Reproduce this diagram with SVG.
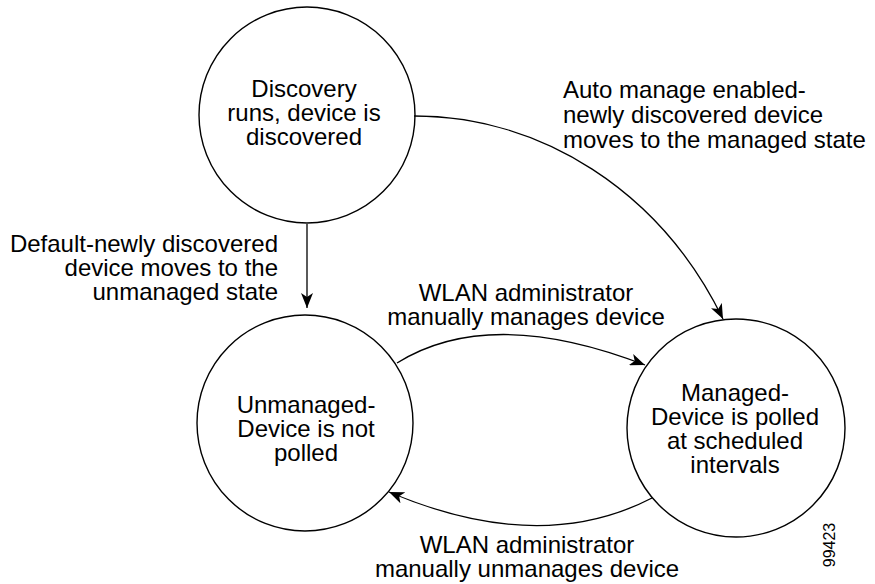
<svg xmlns="http://www.w3.org/2000/svg" width="875" height="584" viewBox="0 0 875 584">
<style>
.node{fill:#fff;stroke:#000;stroke-width:1.4}
.edge{fill:none;stroke:#000;stroke-width:1.3;marker-end:url(#ah)}
text{font-family:"Liberation Sans",Arial,sans-serif;font-size:24px;fill:#000}
.c{text-anchor:middle}
.r{text-anchor:end}
</style>
<defs>
<marker id="ah" markerUnits="userSpaceOnUse" markerWidth="16" markerHeight="12" refX="15" refY="6" orient="auto">
<path d="M0,0 L15,6 L0,12 L4,6 z" fill="#000"/>
</marker>
</defs>
<rect width="875" height="584" fill="#fff"/>
<g id="discovery">
<circle class="node" cx="307" cy="115" r="108"/>
<text class="c" x="304" y="97">Discovery</text>
<text class="c" x="304" y="121">runs, device is</text>
<text class="c" x="304" y="145">discovered</text>
</g>
<g id="unmanaged">
<circle class="node" cx="305" cy="423" r="108"/>
<text class="c" x="306" y="413">Unmanaged-</text>
<text class="c" x="306" y="437">Device is not</text>
<text class="c" x="306" y="461">polled</text>
</g>
<g id="managed">
<circle class="node" cx="736" cy="428" r="109"/>
<text class="c" x="735" y="401">Managed-</text>
<text class="c" x="735" y="425">Device is polled</text>
<text class="c" x="735" y="449">at scheduled</text>
<text class="c" x="735" y="473">intervals</text>
</g>
<g id="connectors">
<path class="edge" d="M307,224 L307,308"/>
<path class="edge" d="M414,116 C540,116 660,190 723,319"/>
<path class="edge" d="M397,363 Q490,305 645,365"/>
<path class="edge" d="M652,498 Q540,556 389,492"/>
</g>
<g id="labels">
<text class="r" x="278" y="252">Default-newly discovered</text>
<text class="r" x="278" y="276">device moves to the</text>
<text class="r" x="278" y="300">unmanaged state</text>
<text x="563" y="98">Auto manage enabled-</text>
<text x="563" y="123">newly discovered device</text>
<text x="563" y="148">moves to the managed state</text>
<text class="c" x="526" y="301">WLAN administrator</text>
<text class="c" x="526" y="325">manually manages device</text>
<text class="c" x="527" y="553">WLAN administrator</text>
<text class="c" x="527" y="577">manually unmanages device</text>
<text transform="translate(835,545) rotate(-90)" class="c" style="font-size:16px">99423</text>
</g>
</svg>
